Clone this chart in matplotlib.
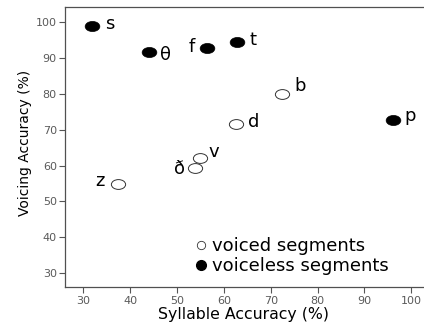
import matplotlib
matplotlib.use("Agg")
import matplotlib.pyplot as plt
from matplotlib.lines import Line2D
from matplotlib.path import Path
from matplotlib.transforms import Affine2D

plt.rcParams['font.family'] = ['DejaVu Sans']

voiced_labels = ['b', 'd', 'v', 'ð', 'z']
voiced_x = [72.5, 62.6, 54.9, 53.9, 37.5]
voiced_y = [79.9, 71.5, 62.1, 59.4, 54.8]

voiceless_labels = ['s', 'θ', 'f', 't', 'p']
voiceless_x = [31.8, 44.0, 56.5, 62.7, 96.1]
voiceless_y = [98.9, 91.65, 92.8, 94.35, 72.65]

xticks = [30, 40, 50, 60, 70, 80, 90, 100]
yticks = [30, 40, 50, 60, 70, 80, 90, 100]
legend_labels = ['voiced segments', 'voiceless segments']

W, H = 424, 323
fig = plt.figure(figsize=(W / 100, H / 100), dpi=100)
ax_left, ax_bottom = 65 / W, (H - 287.3) / H
ax_top = (H - 6.7) / H
ax = fig.add_axes([ax_left, ax_bottom, 1.0 - ax_left, ax_top - ax_bottom])

# slightly wide ellipse marker, as in the reference
ellipse = Path.unit_circle().transformed(Affine2D().scale(1.45, 1.0))

ax.scatter(voiced_x, voiced_y, s=105, marker=ellipse, facecolors='white',
           edgecolors='#333333', linewidths=0.7, zorder=3)
ax.scatter(voiceless_x, voiceless_y, s=112, marker=ellipse, facecolors='black',
           edgecolors='black', linewidths=0.5, zorder=3)

# (dx, dy) offsets in points, anchored on the baseline
offsets = {
    's': (9.6, -2.6, 'left'),
    'θ': (8.0, -6.0, 'left'),
    'f': (-9.0, -3.0, 'right'),
    't': (9.0, -2.2, 'left'),
    'p': (8.0, -0.7, 'left'),
    'b': (8.3, 2.2, 'left'),
    'd': (8.6, -2.2, 'left'),
    'v': (5.8, 0.7, 'left'),
    'ð': (-7.6, -4.7, 'right'),
    'z': (-9.7, -1.4, 'right'),
}
for lbl, x, y in zip(voiced_labels + voiceless_labels,
                     voiced_x + voiceless_x, voiced_y + voiceless_y):
    dx, dy, ha = offsets[lbl]
    ax.annotate(lbl, (x, y), xytext=(dx, dy), textcoords='offset points',
                ha=ha, va='baseline', fontsize=13, color='black')

ax.set_xlim(26.1, 102.7)
ax.set_ylim(26.1, 104.2)
ax.set_xticks(xticks)
ax.set_yticks(yticks)
ax.tick_params(axis='both', colors='#555555', labelsize=8, length=4, width=0.8,
               labelcolor='#5a5a5a')
ax.tick_params(axis='x', pad=2.2)
ax.tick_params(axis='y', pad=1.9)
ax.spines['right'].set_visible(False)
for sp in ['left', 'top', 'bottom']:
    ax.spines[sp].set_color('#505050')
    ax.spines[sp].set_linewidth(0.9)

ax.set_xlabel('Syllable Accuracy (%)', fontsize=11.3, va='baseline')
ax.xaxis.set_label_coords(0.4986, (4.2 - (H - 287.3)) / 280.6)
ax.set_ylabel('Voicing Accuracy (%)', fontsize=10)
ax.yaxis.set_label_coords((32 - 65) / 359, 0.5128)

handles = [
    Line2D([], [], marker='o', linestyle='none', markersize=6,
           markerfacecolor='white', markeredgecolor='#333333', markeredgewidth=0.6),
    Line2D([], [], marker='o', linestyle='none', markersize=7,
           markerfacecolor='black', markeredgecolor='black'),
]
ax.legend(handles, legend_labels, loc='center left',
          bbox_to_anchor=(195.6 / W, (H - 256) / H), bbox_transform=fig.transFigure,
          frameon=False, fontsize=13, handletextpad=0.3, labelspacing=0.1,
          borderpad=0.0, borderaxespad=0.0, handlelength=0.6)

fig.savefig('out.png', dpi=100)
